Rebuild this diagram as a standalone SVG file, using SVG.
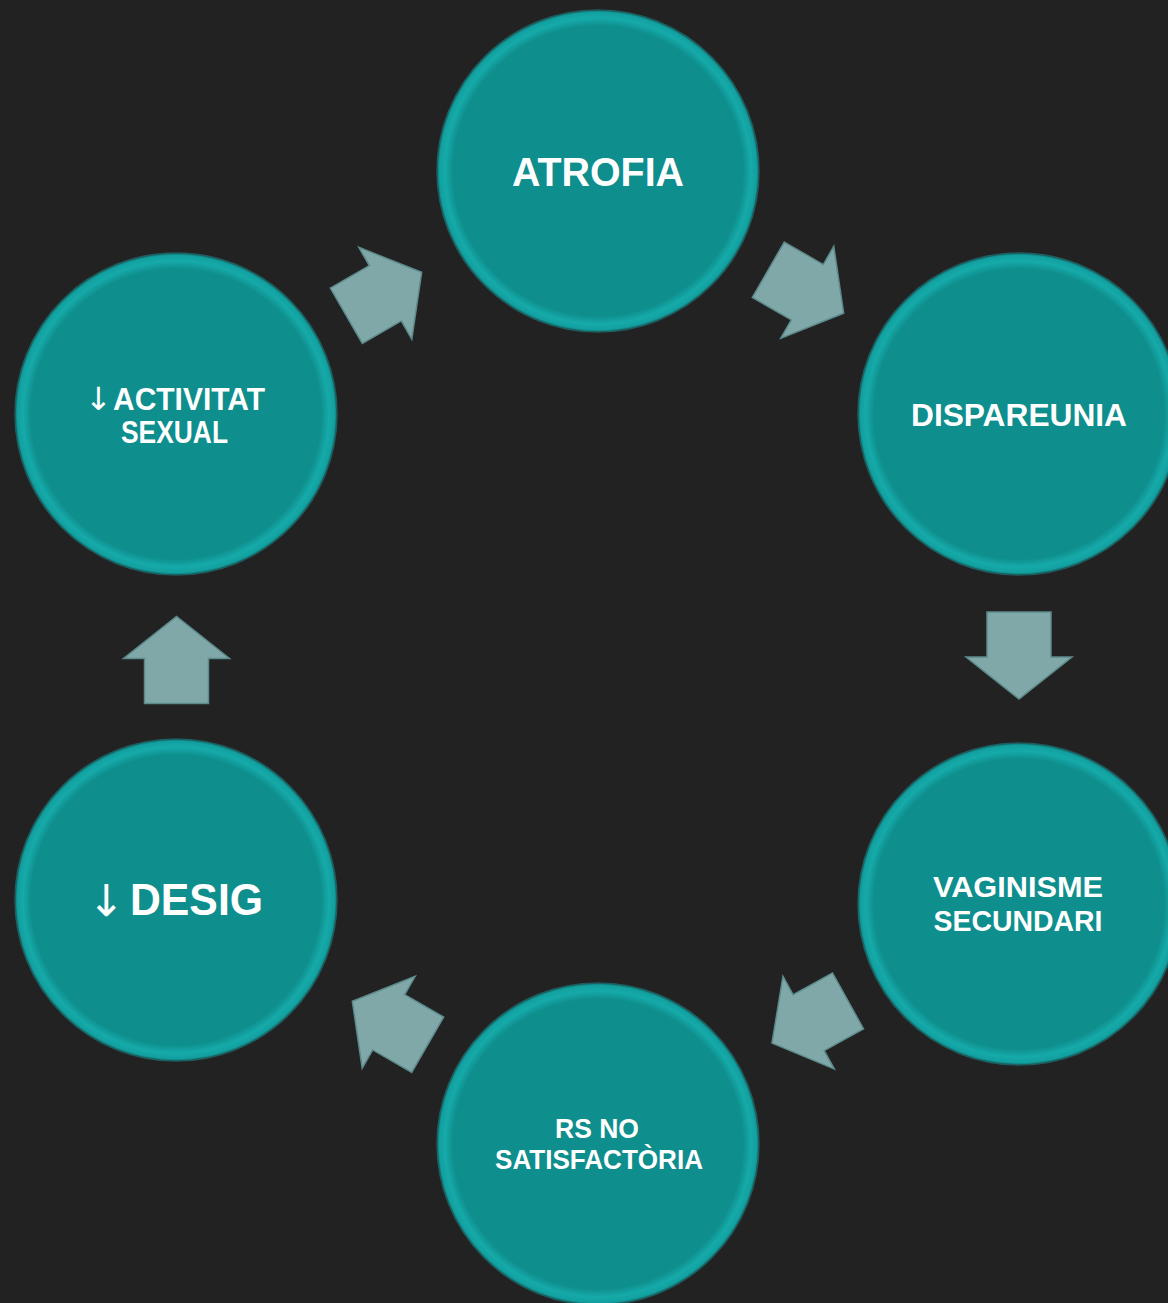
<svg xmlns="http://www.w3.org/2000/svg" width="1168" height="1303" viewBox="0 0 1168 1303">
<defs>
<radialGradient id="disc" cx="0.5" cy="0.5" r="0.5">
<stop offset="0" stop-color="#0e8e8d"/>
<stop offset="0.9" stop-color="#0e8e8d"/>
<stop offset="0.95" stop-color="#15aaa9"/>
<stop offset="0.985" stop-color="#12a09f"/>
<stop offset="1" stop-color="#0b6f6f"/>
</radialGradient>
<path id="arrow" d="M-43.5,-32 H1.5 V-53 L43.5,0 L1.5,53 V32 H-43.5 Z"/>
<style>
.node circle{fill:url(#disc);stroke:#1f5d5e;stroke-width:1.5}
.lbl{font-family:"Liberation Sans",Arial,sans-serif;font-weight:bold;fill:#ffffff}
.arr{font-family:"DejaVu Sans","Liberation Sans",sans-serif;font-weight:normal}
.conn use{fill:#80a8a9;stroke:#5d8a8b;stroke-width:1.5;stroke-linejoin:miter}
</style>
</defs>
<rect width="1168" height="1303" fill="#222222"/>
<g id="connectors" class="conn">
<use href="#arrow" transform="translate(806,291.5) rotate(30)"/>
<use href="#arrow" transform="translate(1019,655.5) rotate(90)"/>
<use href="#arrow" transform="translate(810,1022) rotate(151)"/>
<use href="#arrow" transform="translate(390,1023) rotate(210)"/>
<use href="#arrow" transform="translate(176.5,660) rotate(-90)"/>
<use href="#arrow" transform="translate(384,294) rotate(-30)"/>
</g>
<g id="atrofia" class="node">
<circle cx="598" cy="171" r="161"/>
<text class="lbl" x="598" y="186" font-size="41" text-anchor="middle" textLength="172" lengthAdjust="spacingAndGlyphs">ATROFIA</text>
</g>
<g id="dispareunia" class="node">
<circle cx="1019" cy="414" r="161"/>
<text class="lbl" x="1019" y="426" font-size="32" text-anchor="middle" textLength="216" lengthAdjust="spacingAndGlyphs">DISPAREUNIA</text>
</g>
<g id="vaginisme" class="node">
<circle cx="1019" cy="904" r="161"/>
<text class="lbl" font-size="30" text-anchor="middle"><tspan x="1018" y="897" textLength="170" lengthAdjust="spacingAndGlyphs">VAGINISME</tspan><tspan x="1018" y="931" textLength="169" lengthAdjust="spacingAndGlyphs">SECUNDARI</tspan></text>
</g>
<g id="rs-no-satisfactoria" class="node">
<circle cx="598" cy="1144" r="161"/>
<text class="lbl" font-size="28" text-anchor="middle"><tspan x="597" y="1138" textLength="84" lengthAdjust="spacingAndGlyphs">RS NO</tspan><tspan x="599" y="1169" textLength="208" lengthAdjust="spacingAndGlyphs">SATISFACTÒRIA</tspan></text>
</g>
<g id="desig" class="node">
<circle cx="176" cy="900" r="161"/>
<text class="lbl" font-size="44"><tspan class="arr" x="88" y="916">↓</tspan><tspan x="130" y="915" textLength="133" lengthAdjust="spacingAndGlyphs">DESIG</tspan></text>
</g>
<g id="activitat-sexual" class="node">
<circle cx="176" cy="414" r="161"/>
<text class="lbl" font-size="32"><tspan class="arr" x="85" y="410">↓</tspan><tspan x="113" y="410" textLength="152" lengthAdjust="spacingAndGlyphs">ACTIVITAT</tspan><tspan x="121" y="443" textLength="107" lengthAdjust="spacingAndGlyphs">SEXUAL</tspan></text>
</g>
</svg>
